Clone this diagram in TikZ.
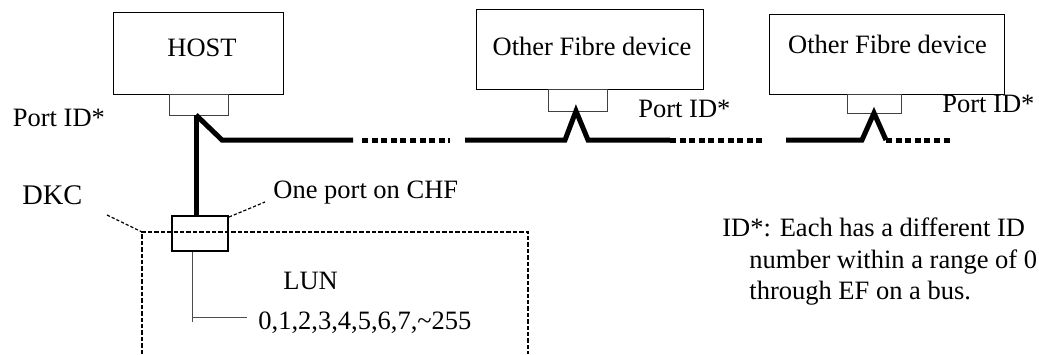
\documentclass[tikz,border=0pt]{standalone}
\usepackage{fontspec}
\setmainfont{Liberation Serif}
\newcommand\lblfont{\fontsize{13.25}{15.75}\selectfont}
\newcommand\bigfont{\fontsize{14.2}{17}\selectfont}
\begin{document}
\begin{tikzpicture}[x=0.5pt,y=-0.5pt,
  devbox/.style={draw,line width=0.5pt,inner sep=0pt},
  portbox/.style={draw=black!75,line width=0.5pt,inner sep=0pt},
  chfbox/.style={draw,line width=1pt,inner sep=0pt},
  bus/.style={line width=2.5pt,line cap=butt},
  busdots/.style={line width=2.5pt,dash pattern=on 3pt off 1.8pt},
  ptr/.style={line width=0.6pt,dash pattern=on 1.6pt off 1pt},
  dkcline/.style={line width=1pt,dash pattern=on 2.2pt off 1pt},
  thin/.style={draw=black!70,line width=0.5pt},
  lbl/.style={font=\lblfont,inner sep=0pt},
]
\useasboundingbox (0,0) rectangle (1039,354);

% boxes
\node[devbox,minimum width=85pt,minimum height=41pt] (host) at (198,53) {};
\node[portbox,minimum width=29.5pt,minimum height=10.5pt] (hostport) at (198.5,104.5) {};
\node[devbox,minimum width=113.5pt,minimum height=40pt] (dev1) at (589.5,49) {};
\node[portbox,minimum width=29.5pt,minimum height=11pt] (dev1port) at (577.5,100) {};
\node[devbox,minimum width=117.5pt,minimum height=40pt] (dev2) at (886.5,54) {};
\node[portbox,minimum width=27pt,minimum height=9.5pt] (dev2port) at (874,103.5) {};
\node[chfbox,minimum width=28pt,minimum height=17.5pt] (chf) at (200,233.5) {};

% texts
\node[lbl,anchor=base] (hostt) at (202,56) {HOST};
\node[lbl,anchor=base] (dev1t) at (592,55) {Other Fibre device};
\node[lbl,anchor=base] (dev2t) at (887.5,53) {Other Fibre device};
\node[lbl,anchor=base west] (pid0) at (12.5,126) {Port ID*};
\node[lbl,anchor=base west] (pid1) at (638,117) {Port ID*};
\node[lbl,anchor=base west] (pid2) at (942,112) {Port ID*};
\node[font=\bigfont,inner sep=0pt,anchor=base west] (dkc) at (22,204) {DKC};
\node[lbl,anchor=base west] (chft) at (273,198) {One port on CHF};
\node[lbl,anchor=base west] (lun) at (283,289) {LUN};
\node[lbl,anchor=base west] (lunn) at (258,329) {0,1,2,3,4,5,6,7,\char"007E 255};
\node[lbl,anchor=base west] (id1) at (722,236) {ID*: Each has a different ID};
\node[lbl,anchor=base west] (id2) at (749,268) {number within a range of 0};
\node[lbl,anchor=base west] (id3) at (749,299) {through EF on a bus.};

% coordinates of the bus
\coordinate (hp) at (196,115);
\coordinate (b0) at (222,140);
\coordinate (b1) at (353,140);
\coordinate (d0) at (362,140);
\coordinate (d1) at (450,140);
\coordinate (s1) at (465,140);
\coordinate (l1) at (565,140);
\coordinate (p1) at (576,111);
\coordinate (r1) at (588,140);
\coordinate (e1) at (670,140);
\coordinate (f1) at (763,140);
\coordinate (s2) at (786,140);
\coordinate (l2) at (862,140);
\coordinate (p2) at (874,113);
\coordinate (r2) at (886,140);
\coordinate (f2) at (950,140);

% bus
\draw[bus] (hp) -- (hp |- chf.north);
\draw[bus] (hp) -- (b0) -- (b1);
\draw[busdots] (d0) -- (d1);
\draw[bus] (s1) -- (l1) -- (p1) -- (r1) -- (e1);
\draw[busdots] (e1) -- (f1);
\draw[bus] (s2) -- (l2) -- (p2) -- (r2);
\draw[busdots] (r2) -- (f2);

% DKC outline
\coordinate (k0) at (142,354);
\coordinate (k1) at (142,232);
\coordinate (k2) at (528,232);
\coordinate (k3) at (528,354);
\draw[dkcline] (k0) -- (k1) -- (k2) -- (k3);

% pointers
\coordinate (dkcp) at (107,215);
\coordinate (chfp) at (265,202);
\draw[ptr] (dkcp) -- (k1);
\draw[ptr] (chf.north east) ++(0,2) -- (chfp);

% LUN line
\coordinate (lv) at (192,322);
\coordinate (lh) at (192,317);
\coordinate (le) at (247,317);
\draw[thin] (chf.south -| lv) -- (lv);
\draw[thin] (lh) -- (le);
\end{tikzpicture}
\end{document}
